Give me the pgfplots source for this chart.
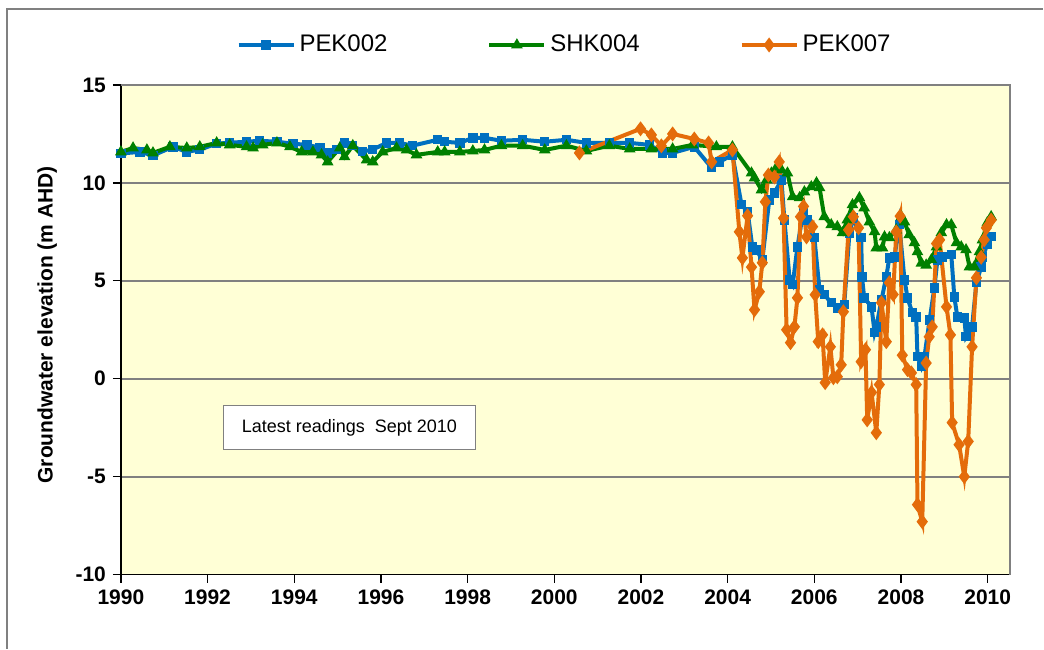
\documentclass[border=0pt]{standalone}
\usepackage{fontspec}
\setmainfont{Liberation Sans}
\usepackage{pgfplots}
\pgfplotsset{compat=1.18}
\usepackage{pgfplotstable}

\definecolor{plotbg}{RGB}{255,255,214}
\definecolor{pekblue}{RGB}{0,112,192}
\definecolor{shkgreen}{RGB}{0,128,0}
\definecolor{pekorange}{RGB}{228,108,10}
\definecolor{gridgray}{RGB}{128,128,128}

% PEK002
\pgfplotstableread{
year h
1990.00 11.50
1990.44 11.58
1990.74 11.40
1991.20 11.84
1991.52 11.58
1991.82 11.70
1992.21 12.00
1992.51 12.05
1992.90 12.10
1993.20 12.15
1993.60 12.10
1993.97 12.00
1994.29 11.94
1994.59 11.80
1994.77 11.53
1994.98 11.70
1995.16 12.04
1995.35 11.90
1995.58 11.60
1995.81 11.70
1996.13 12.04
1996.43 12.04
1996.73 11.90
1997.31 12.20
1997.47 12.10
1997.82 12.04
1998.12 12.30
1998.39 12.30
1998.78 12.15
1999.27 12.20
1999.78 12.10
2000.28 12.20
2000.74 12.04
2001.27 12.04
2001.74 12.04
2002.20 11.94
2002.50 11.53
2002.73 11.53
2003.23 11.84
2003.63 10.77
2003.81 11.07
2004.11 11.43
2004.32 8.88
2004.46 8.52
2004.57 6.73
2004.66 6.58
2004.80 6.07
2004.96 9.13
2005.08 9.49
2005.24 10.15
2005.31 8.10
2005.43 5.05
2005.50 4.80
2005.61 6.73
2005.75 8.62
2005.84 8.10
2006.00 7.20
2006.12 4.54
2006.23 4.29
2006.39 3.88
2006.53 3.62
2006.69 3.78
2006.81 7.45
2006.90 8.20
2007.08 7.20
2007.10 5.20
2007.15 4.13
2007.32 3.67
2007.39 2.35
2007.43 2.65
2007.55 4.03
2007.66 5.20
2007.73 6.17
2007.85 6.22
2007.96 7.86
2008.08 5.05
2008.15 4.13
2008.26 3.37
2008.35 3.16
2008.38 1.12
2008.47 0.61
2008.54 1.12
2008.66 3.00
2008.77 4.64
2008.84 6.07
2008.95 6.22
2009.16 6.33
2009.23 4.18
2009.30 3.16
2009.46 3.11
2009.50 2.14
2009.64 2.65
2009.74 4.90
2009.85 5.71
2009.88 6.22
2009.99 6.84
2010.08 7.25
}\pekA

% SHK004
\pgfplotstableread{
year h
1990.00 11.58
1990.28 11.78
1990.60 11.68
1990.74 11.53
1991.13 11.84
1991.52 11.78
1991.82 11.84
1992.21 12.04
1992.51 11.94
1992.90 11.84
1993.05 11.78
1993.27 11.94
1993.60 12.04
1993.90 11.84
1994.17 11.58
1994.43 11.58
1994.63 11.43
1994.77 11.07
1995.05 11.78
1995.16 11.33
1995.35 11.90
1995.67 11.17
1995.81 11.07
1996.04 11.58
1996.36 11.78
1996.59 11.68
1996.82 11.43
1997.31 11.58
1997.47 11.58
1997.82 11.58
1998.12 11.63
1998.39 11.68
1998.78 11.90
1999.27 11.90
1999.78 11.68
2000.28 11.90
2000.74 11.63
2001.27 11.90
2001.74 11.73
2002.24 11.73
2002.73 11.73
2003.19 11.94
2003.74 11.84
2004.11 11.84
2004.55 10.50
2004.62 10.25
2004.78 9.64
2004.90 10.15
2005.01 10.50
2005.13 10.80
2005.24 10.66
2005.38 10.50
2005.50 9.29
2005.66 9.24
2005.77 9.54
2005.93 9.80
2006.05 10.00
2006.12 9.75
2006.23 8.27
2006.39 7.86
2006.53 7.76
2006.65 7.45
2006.76 8.10
2006.88 8.88
2007.04 9.24
2007.15 8.72
2007.27 8.00
2007.39 7.50
2007.43 6.68
2007.57 6.68
2007.62 7.24
2007.73 7.20
2007.89 7.60
2008.01 8.27
2008.08 8.00
2008.19 7.35
2008.31 6.94
2008.38 6.48
2008.47 5.90
2008.58 5.80
2008.70 6.07
2008.82 6.73
2008.93 7.45
2009.05 7.86
2009.16 7.86
2009.28 6.94
2009.39 6.73
2009.50 6.58
2009.58 5.71
2009.69 5.71
2009.81 6.48
2009.88 7.09
2009.99 7.96
2010.08 8.27
}\shk

% PEK007
\pgfplotstableread{
year h
2000.58 11.53
2001.99 12.76
2002.24 12.45
2002.47 11.89
2002.73 12.50
2003.23 12.24
2003.56 12.04
2003.63 11.07
2004.11 11.68
2004.27 7.50
2004.34 6.17
2004.46 8.32
2004.55 5.70
2004.62 3.52
2004.73 4.44
2004.80 5.92
2004.87 9.03
2004.94 10.40
2005.08 10.30
2005.19 11.07
2005.29 8.20
2005.36 2.50
2005.45 1.84
2005.54 2.65
2005.61 4.13
2005.68 8.27
2005.75 8.80
2005.82 7.24
2005.96 7.76
2006.02 4.29
2006.09 1.89
2006.19 2.24
2006.25 -0.20
2006.37 1.63
2006.44 0.05
2006.53 0.10
2006.62 0.71
2006.67 3.42
2006.79 7.60
2006.90 8.27
2007.02 7.70
2007.08 0.87
2007.18 1.48
2007.22 -2.10
2007.32 -0.70
2007.43 -2.76
2007.50 -0.30
2007.55 3.88
2007.66 1.89
2007.73 4.90
2007.82 4.30
2007.89 7.50
2007.98 8.30
2008.03 1.20
2008.15 0.46
2008.24 0.30
2008.35 -0.30
2008.38 -6.43
2008.49 -7.30
2008.58 0.80
2008.65 2.14
2008.72 2.65
2008.82 6.90
2008.89 7.09
2009.05 3.67
2009.14 2.24
2009.18 -2.24
2009.34 -3.37
2009.46 -5.00
2009.55 -3.20
2009.64 1.63
2009.74 5.15
2009.85 6.20
2009.92 7.09
2009.97 7.70
2010.08 8.10
}\pekB

\begin{document}
\begin{tikzpicture}
% page size and outer chart frame
\path (0,0) rectangle (522pt,324.5pt);
\draw[gridgray, line width=0.8pt] (3.5pt,0) -- (3.5pt,320pt) -- (522pt,320pt);

\begin{axis}[
  at={(60.5pt,37pt)}, anchor=south west,
  scale only axis, width=445pt, height=245pt,
  xmin=1990, xmax=2010.52,
  ymin=-10, ymax=15,
  xtick={1990,1992,...,2010},
  ytick={-10,-5,...,15},
  axis x line*=bottom, axis y line*=left,
  axis line style={black, line width=0.8pt, -},
  tick align=outside, major tick length=4pt,
  tick style={black, line width=0.7pt},
  xtick pos=bottom, ytick pos=left,
  ymajorgrids,
  grid style={gridgray, line width=0.9pt},
  axis background/.style={fill=plotbg},
  x tick label style={/pgf/number format/1000 sep={}},
  tick label style={font=\fontsize{10.5}{12}\selectfont\bfseries},
  /pgf/number format/assume math mode=true,
  ylabel={Groundwater elevation (m AHD)},
  ylabel style={font=\fontsize{10.5}{12}\selectfont\bfseries,
    at={(axis description cs:-0.083,0.51)}, anchor=center},
  legend style={at={(0.5,1.0816)}, anchor=center, draw=none, fill=none,
    font=\fontsize{12}{14}\selectfont, legend columns=3,
    /tikz/every odd column/.append style={column sep=0pt},
    /tikz/every even column/.append style={column sep=48pt}},
  legend image code/.code={
    \draw[mark repeat=2, mark phase=2] plot coordinates {(0pt,0pt) (13.75pt,0pt) (27.5pt,0pt)};},
  clip=false,
]
\draw[gridgray, line width=0.9pt] (rel axis cs:0,1) -- (rel axis cs:1,1) -- (rel axis cs:1,0);

\addplot[pekblue, line width=2pt, mark=square*, mark size=1.35pt,
  mark options={solid, fill=pekblue}] table[x=year, y=h] {\pekA};
\addplot[shkgreen, line width=2pt, mark=triangle*, mark size=1.4pt,
  mark options={solid, fill=shkgreen}] table[x=year, y=h] {\shk};
\addplot[pekorange, line width=2pt, mark=diamond*, mark size=2.1pt,
  mark options={solid, fill=pekorange}] table[x=year, y=h] {\pekB};
\legend{PEK002, SHK004, PEK007}

\node[draw=gridgray, fill=white, line width=0.7pt, minimum width=126pt,
  minimum height=22pt, font=\fontsize{9}{11}\selectfont]
  at (axis cs:1995.27,-2.5) {Latest readings\ \ Sept 2010};
\end{axis}
\end{tikzpicture}
\end{document}
